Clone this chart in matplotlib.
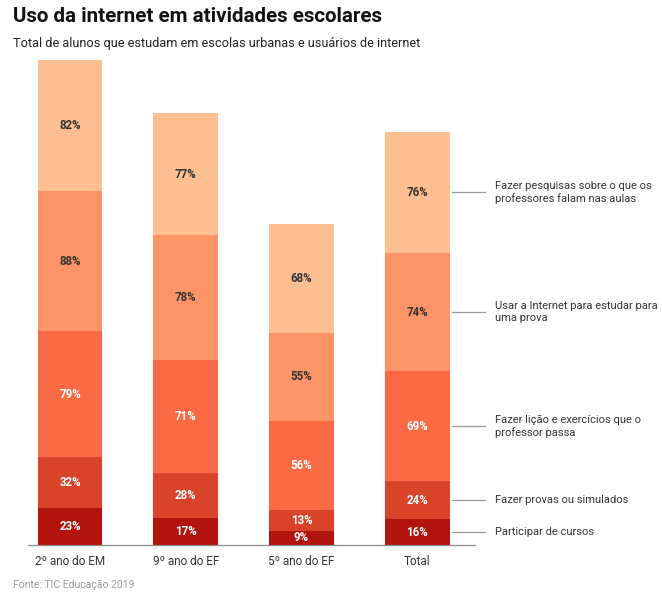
import matplotlib
matplotlib.use("Agg")
import matplotlib.pyplot as plt
import numpy as np

plt.rcParams['font.family'] = ['Roboto', 'DejaVu Sans']

categories = ["2º ano do EM", "9º ano do EF", "5º ano do EF", "Total"]
# series from bottom to top
series_names = [
    "Participar de cursos",
    "Fazer provas ou simulados",
    "Fazer lição e exercícios que o\nprofessor passa",
    "Usar a Internet para estudar para\numa prova",
    "Fazer pesquisas sobre o que os\nprofessores falam nas aulas",
]
cursos = [23, 17, 9, 16]
provas = [32, 28, 13, 24]
licao = [79, 71, 56, 69]
estudar = [88, 78, 55, 74]
pesquisas = [82, 77, 68, 76]
colors = ["#B0140C", "#D9432A", "#FA6A45", "#FC9467", "#FDBE91"]
text_colors = ["white", "white", "white", "#333333", "#333333"]

series = [cursos, provas, licao, estudar, pesquisas]

fig = plt.figure(figsize=(6.62, 5.94), dpi=100)
W, H = 662, 594
ax = fig.add_axes([28 / W, 1 - 545 / H, (475 - 28) / W, (545 - 60) / H])

x = np.arange(len(categories))
bottom = np.zeros(len(categories))
for vals, c, tc in zip(series, colors, text_colors):
    vals = np.array(vals, dtype=float)
    ax.bar(x, vals, bottom=bottom, width=0.56, color=c, edgecolor="none")
    for xi, b, v in zip(x, bottom, vals):
        ax.text(xi, b + v / 2, f"{int(v)}%", ha="center", va="center",
                fontsize=8.3, fontweight="bold", color=tc)
    bottom += vals

ax.set_ylim(0, 304)
ax.set_xlim(-0.363, 3.5)

# legend labels tied to Total bar
last = len(categories) - 1
b = 0
for vals, name in zip(series, series_names):
    mid = b + vals[last] / 2
    ax.plot([last + 0.30, last + 0.59], [mid, mid], color="#999999", lw=0.9,
            clip_on=False)
    ax.text(last + 0.67, mid, name, ha="left", va="center", fontsize=8,
            color="#333333", clip_on=False, linespacing=1.25)
    b += vals[last]

for s in ["top", "right", "left"]:
    ax.spines[s].set_visible(False)
ax.spines["bottom"].set_color("#888888")
ax.spines["bottom"].set_linewidth(0.9)
ax.set_yticks([])
ax.set_xticks(x)
ax.set_xticklabels(categories, fontsize=8.5, color="#333333")
ax.tick_params(axis="x", length=0, pad=7)

fig.text(13 / W, 1 - 17 / H, "Uso da internet em atividades escolares",
         fontsize=14.8, fontweight="bold", color="#111111", va="center")
fig.text(13 / W, 1 - 43 / H,
         "Total de alunos que estudam em escolas urbanas e usuários de internet",
         fontsize=9.2, color="#222222", va="center")
fig.text(13 / W, 1 - 585 / H, "Fonte: TIC Educação 2019", fontsize=7.5,
         color="#999999", va="center")

fig.savefig("out.png", dpi=100, facecolor="white")
